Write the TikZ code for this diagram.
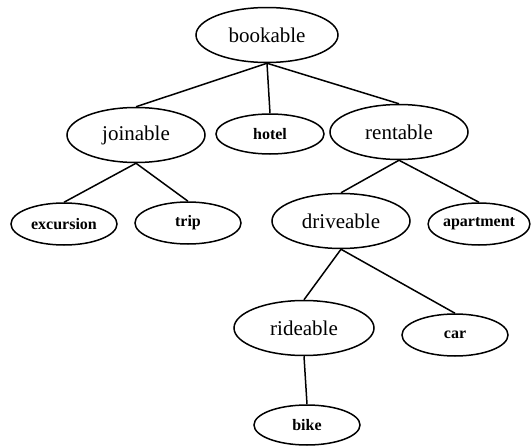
\documentclass[tikz,border=0pt]{standalone}
\usepackage{fontspec}
\setmainfont{Liberation Serif}
\usetikzlibrary{shapes.geometric}
\begin{document}
\begin{tikzpicture}[x=1pt,y=-1pt,
  big/.style={ellipse,draw,line width=1.5pt,inner sep=0pt,
    minimum width=138pt,minimum height=55pt,font=\fontsize{21}{23}\selectfont},
  small/.style={ellipse,draw,line width=1.5pt,inner sep=0pt,
    minimum width=106pt,minimum height=42pt,font=\fontsize{16}{18}\selectfont\bfseries},
  edge/.style={line width=1.5pt}]
\useasboundingbox (0,0) rectangle (531,447);
% nodes of the hierarchy
\node[big,minimum width=142pt] (bookable) at (267,35) {bookable};
\node[big]   (joinable)  at (136,135) {joinable};
\node[small,minimum width=108pt,minimum height=40pt] (hotel) at (270,134) {hotel};
\node[big,minimum width=138pt] (rentable) at (399,132) {rentable};
\node[small] (excursion) at (64,224)  {excursion};
\node[small] (trip)      at (188,223) {trip};
\node[big]   (driveable) at (341,221) {driveable};
\node[small,minimum width=100pt] (apartment) at (479,224) {apartment};
\node[big,minimum width=140pt] (rideable) at (304,328) {rideable};
\node[small,minimum width=106pt] (car) at (455,335) {car};
\node[small,minimum width=106pt,minimum height=40pt] (bike) at (307,425) {bike};
% links from parent to child
\foreach \p/\c in {bookable/joinable,bookable/hotel,bookable/rentable,
                   joinable/excursion,joinable/trip,
                   rentable/driveable,rentable/apartment,
                   driveable/rideable,driveable/car,
                   rideable/bike}
  \draw[edge] (\p.south) -- (\c.north);
\end{tikzpicture}
\end{document}
